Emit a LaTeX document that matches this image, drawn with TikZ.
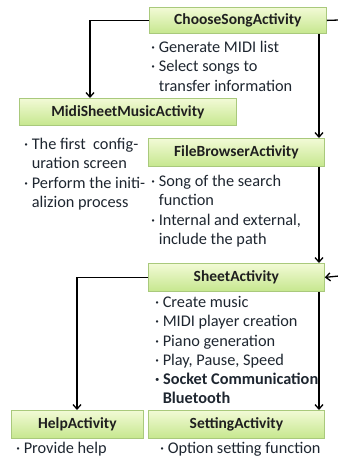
\documentclass[tikz,border=0pt]{standalone}
\usepackage{fontspec}
\setmainfont{Carlito}
\usetikzlibrary{arrows.meta,calc}
\definecolor{boxtop}{HTML}{F2FAD6}
\definecolor{boxbot}{HTML}{C6E78E}
\definecolor{boxline}{HTML}{A9C97C}
\definecolor{txt}{HTML}{1E2630}
\tikzset{
  act/.style={draw=boxline, line width=0.8pt, top color=boxtop, bottom color=boxbot,
    font=\fontsize{15.5}{17}\selectfont\bfseries, text=black!88, inner sep=0pt, anchor=north west},
  conn/.style={line width=1.3pt, -{Straight Barb[length=4.5pt,width=8pt,line width=1.3pt]}},
  plain/.style={line width=1.3pt},
  notes/.style={anchor=north west, align=left, inner sep=0pt, text=txt,
    font=\fontsize{16.3}{19.3}\selectfont},
}
\newcommand{\bl}{\textperiodcentered\hspace{3.5pt}}
\newcommand{\ind}{\hphantom{\textperiodcentered\hspace{3.5pt}}}
\begin{document}
\begin{tikzpicture}[x=1pt,y=-1pt]
\useasboundingbox (0,0) rectangle (338,459);
% boxes
\node[act, minimum width=177pt, minimum height=26pt] (choose) at (149,7) {ChooseSongActivity};
\node[act, minimum width=217pt, minimum height=27pt] (midi) at (19,98) {MidiSheetMusicActivity};
\node[act, minimum width=176pt, minimum height=28pt] (file) at (148,138) {FileBrowserActivity};
\node[act, minimum width=176pt, minimum height=28pt] (sheet) at (148,263) {SheetActivity};
\node[act, minimum width=132pt, minimum height=28pt] (help) at (11,410) {HelpActivity};
\node[act, minimum width=176pt, minimum height=28pt] (setting) at (148,410) {SettingActivity};
% notes
\node[notes] (n1) at (151,41) {\bl Generate MIDI list\\ \bl Select songs to\\ \ind transfer information};
\node[notes] (n2) at (24,138) {\bl The first\ \ config-\\ \ind uration screen\\ \bl Perform the initi-\\ \ind alizion process};
\node[notes] (n3) at (151,175) {\bl Song of the search\\ \ind function\\ \bl Internal and external,\\ \ind include the path};
\node[notes] (n4) at (155,296) {\bl Create music\\ \bl MIDI player creation\\ \bl Piano generation\\ \bl Play, Pause, Speed\\ \textbf{\bl Socket Communication}\\ \ind\textbf{Bluetooth}};
\node[notes] (n5) at (16,442) {\bl Provide help};
\node[notes] (n6) at (160,442) {\bl Option setting function};
% edge coordinates
\coordinate (eA) at (339,20);
\coordinate (eB) at (339,276);
% connectors
\draw[conn] (choose.west) -| (midi.north -| 90,0);
\draw[plain] (choose.east) -- (eA);
\draw[conn] (choose.south -| 319,0) -- (file.north -| 319,0);
\draw[conn] (file.south -| 319,0) -- (sheet.north -| 319,0);
\draw[conn] (eB) -- (sheet.east);
\draw[conn] (sheet.west) -| (help.north -| 77,0);
\draw[conn] (sheet.south -| 319,0) -- (setting.north -| 319,0);
\end{tikzpicture}
\end{document}
